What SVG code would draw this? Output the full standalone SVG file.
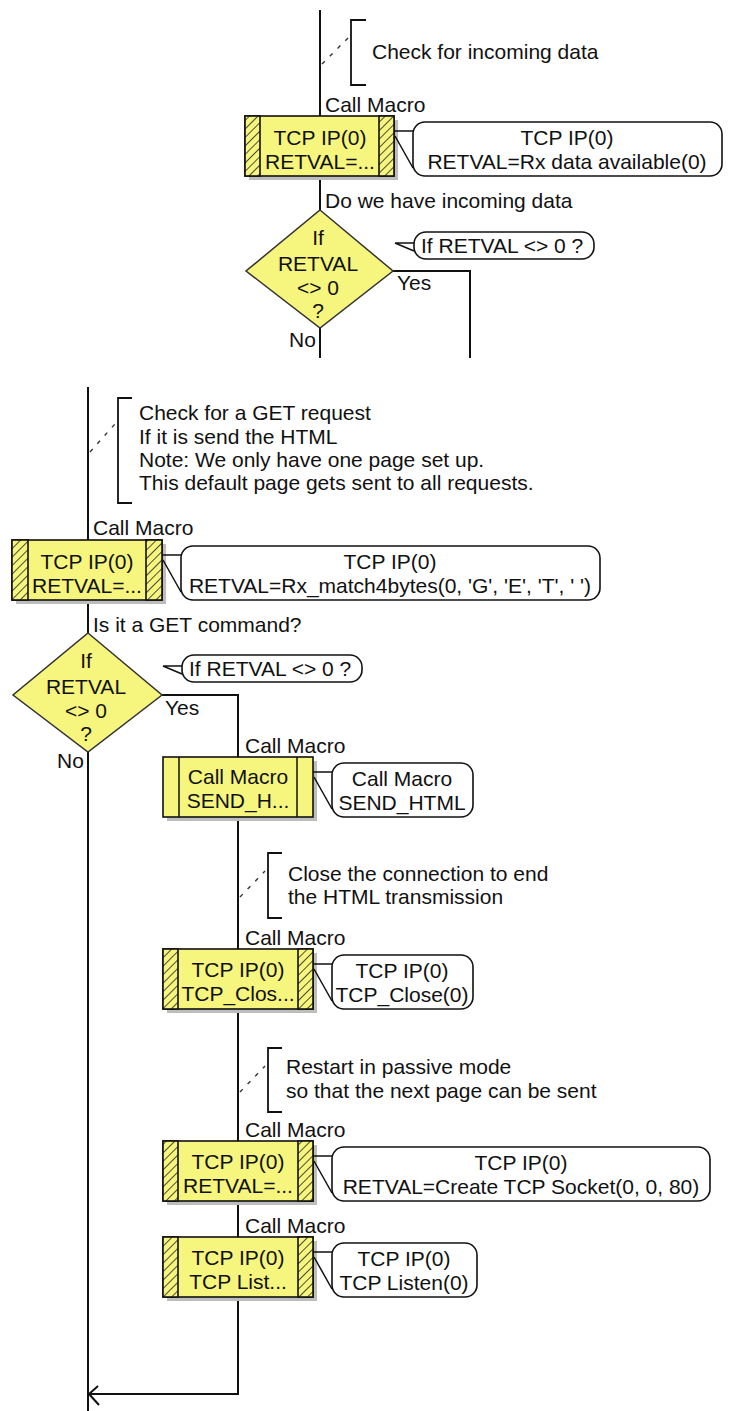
<svg xmlns="http://www.w3.org/2000/svg" width="732" height="1411" viewBox="0 0 732 1411">
<defs>
<pattern id="hatch" width="6" height="6" patternUnits="userSpaceOnUse" patternTransform="rotate(45)">
<rect width="6" height="6" fill="#f6f67e"/>
<line x1="0" y1="0" x2="0" y2="6" stroke="#222" stroke-width="1.6"/>
</pattern>
<style>
text{font-family:"Liberation Sans",Arial,sans-serif;font-size:21px;fill:#111}
.c{text-anchor:middle}
.ln{fill:none;stroke:#111;stroke-width:2}
.box{fill:#f6f67e;stroke:#111;stroke-width:1.6}
.hat{fill:url(#hatch);stroke:#111;stroke-width:1.6}
.sh{fill:#bdbdbd}
.bub{fill:#fff;stroke:#111;stroke-width:1.6}
.tail{fill:none;stroke:#111;stroke-width:1.5}
.br{fill:none;stroke:#111;stroke-width:1.8}
.dash{fill:none;stroke:#333;stroke-width:1.4;stroke-dasharray:4 7}
.dia{fill:#f6f67e;stroke:#333;stroke-width:1.5}
</style>
</defs>
<rect width="732" height="1411" fill="#fff"/>

<g id="connectors">
<path class="ln" d="M320,10 V116 M320,176 V210 M320,328 V358"/>
<path class="ln" d="M393,271 H470 V358"/>
<path class="ln" d="M88,387 V540 M88,600 V633 M88,752 V1411"/>
<path class="ln" d="M162,695 H238 V757 M238,817 V949 M238,1009 V1141 M238,1201 V1237 M238,1297 V1394 H89"/>
<path class="ln" d="M98,1386 L89,1394 L99,1405"/>
</g>

<g id="comment1">
<path class="br" d="M366,20 H351 V85 H366"/>
<path class="dash" d="M322,64 L348,38"/>
<text x="372" y="59">Check for incoming data</text>
</g>

<g id="macro1">
<text x="325" y="112">Call Macro</text>
<rect class="sh" x="249" y="120" width="149" height="60"/>
<rect class="box" x="245" y="116" width="149" height="60"/>
<rect class="hat" x="245" y="116" width="15" height="60"/>
<rect class="hat" x="379" y="116" width="15" height="60"/>
<text class="c" x="320" y="145">TCP IP(0)</text>
<text class="c" x="320" y="169">RETVAL=...</text>
<path class="tail" d="M394,131 H413 M395,136 L413,168"/>
<rect class="bub" x="413" y="122" width="309" height="54" rx="12"/>
<text class="c" x="567" y="145">TCP IP(0)</text>
<text class="c" x="567" y="169">RETVAL=Rx data available(0)</text>
</g>

<g id="decision1">
<text x="325" y="208">Do we have incoming data</text>
<polygon class="dia" points="320,210 393,271 320,328 246,271"/>
<text class="c" x="318" y="245">If</text>
<text class="c" x="318" y="271">RETVAL</text>
<text class="c" x="318" y="295">&lt;&gt; 0</text>
<text class="c" x="318" y="318">?</text>
<path class="tail" d="M395,243 H414 M395,243 L414,251"/>
<rect class="bub" x="414" y="232" width="180" height="27" rx="12"/>
<text x="421" y="253">If RETVAL &lt;&gt; 0 ?</text>
<text x="397" y="290">Yes</text>
<text x="289" y="347">No</text>
</g>

<g id="comment2">
<path class="br" d="M132,398 H118 V503 H132"/>
<path class="dash" d="M90,452 L115,424"/>
<text x="139" y="420">Check for a GET request</text>
<text x="139" y="444">If it is send the HTML</text>
<text x="139" y="467">Note: We only have one page set up.</text>
<text x="139" y="490">This default page gets sent to all requests.</text>
</g>

<g id="macro2">
<text x="93" y="535">Call Macro</text>
<rect class="sh" x="16" y="544" width="150" height="60"/>
<rect class="box" x="12" y="540" width="150" height="60"/>
<rect class="hat" x="12" y="540" width="16" height="60"/>
<rect class="hat" x="146" y="540" width="16" height="60"/>
<text class="c" x="87" y="569">TCP IP(0)</text>
<text class="c" x="87" y="593">RETVAL=...</text>
<path class="tail" d="M162,555 H181 M163,560 L181,592"/>
<rect class="bub" x="181" y="546" width="419" height="54" rx="12"/>
<text class="c" x="390" y="569">TCP IP(0)</text>
<text class="c" x="390" y="593">RETVAL=Rx_match4bytes(0, 'G', 'E', 'T', ' ')</text>
</g>

<g id="decision2">
<text x="93" y="632">Is it a GET command?</text>
<polygon class="dia" points="88,633 162,695 88,752 13,695"/>
<text class="c" x="86" y="668">If</text>
<text class="c" x="86" y="694">RETVAL</text>
<text class="c" x="86" y="718">&lt;&gt; 0</text>
<text class="c" x="86" y="741">?</text>
<path class="tail" d="M163,666 H182 M163,666 L182,674"/>
<rect class="bub" x="182" y="655" width="180" height="27" rx="12"/>
<text x="189" y="676">If RETVAL &lt;&gt; 0 ?</text>
<text x="165" y="715">Yes</text>
<text x="57" y="768">No</text>
</g>

<g id="macro3">
<text x="245" y="753">Call Macro</text>
<rect class="sh" x="167" y="761" width="150" height="60"/>
<rect class="box" x="163" y="757" width="150" height="60"/>
<path class="tail" d="M179,757 V817 M297,757 V817"/>
<text class="c" x="238" y="784">Call Macro</text>
<text class="c" x="238" y="808">SEND_H...</text>
<path class="tail" d="M313,772 H332 M314,777 L332,809"/>
<rect class="bub" x="332" y="763" width="141" height="54" rx="12"/>
<text class="c" x="402" y="786">Call Macro</text>
<text class="c" x="402" y="810">SEND_HTML</text>
</g>

<g id="comment3">
<path class="br" d="M282,853 H268 V918 H282"/>
<path class="dash" d="M240,897 L265,871"/>
<text x="288" y="881">Close the connection to end</text>
<text x="288" y="904">the HTML transmission</text>
</g>

<g id="macro4">
<text x="245" y="945">Call Macro</text>
<rect class="sh" x="167" y="953" width="150" height="60"/>
<rect class="box" x="163" y="949" width="150" height="60"/>
<rect class="hat" x="163" y="949" width="15" height="60"/>
<rect class="hat" x="298" y="949" width="15" height="60"/>
<text class="c" x="238" y="977">TCP IP(0)</text>
<text class="c" x="238" y="1001">TCP_Clos...</text>
<path class="tail" d="M313,964 H332 M314,969 L332,1001"/>
<rect class="bub" x="332" y="955" width="141" height="54" rx="12"/>
<text class="c" x="402" y="978">TCP IP(0)</text>
<text class="c" x="402" y="1002">TCP_Close(0)</text>
</g>

<g id="comment4">
<path class="br" d="M282,1048 H268 V1112 H282"/>
<path class="dash" d="M240,1092 L265,1066"/>
<text x="286" y="1074">Restart in passive mode</text>
<text x="286" y="1098">so that the next page can be sent</text>
</g>

<g id="macro5">
<text x="245" y="1137">Call Macro</text>
<rect class="sh" x="167" y="1145" width="150" height="60"/>
<rect class="box" x="163" y="1141" width="150" height="60"/>
<rect class="hat" x="163" y="1141" width="15" height="60"/>
<rect class="hat" x="298" y="1141" width="15" height="60"/>
<text class="c" x="238" y="1169">TCP IP(0)</text>
<text class="c" x="238" y="1193">RETVAL=...</text>
<path class="tail" d="M313,1156 H332 M314,1161 L332,1193"/>
<rect class="bub" x="332" y="1147" width="378" height="54" rx="12"/>
<text class="c" x="521" y="1170">TCP IP(0)</text>
<text class="c" x="521" y="1194">RETVAL=Create TCP Socket(0, 0, 80)</text>
</g>

<g id="macro6">
<text x="245" y="1233">Call Macro</text>
<rect class="sh" x="167" y="1241" width="150" height="60"/>
<rect class="box" x="163" y="1237" width="150" height="60"/>
<rect class="hat" x="163" y="1237" width="15" height="60"/>
<rect class="hat" x="298" y="1237" width="15" height="60"/>
<text class="c" x="238" y="1265">TCP IP(0)</text>
<text class="c" x="238" y="1289">TCP List...</text>
<path class="tail" d="M313,1252 H332 M314,1257 L332,1289"/>
<rect class="bub" x="332" y="1243" width="145" height="54" rx="12"/>
<text class="c" x="404" y="1266">TCP IP(0)</text>
<text class="c" x="404" y="1290">TCP Listen(0)</text>
</g>
</svg>
